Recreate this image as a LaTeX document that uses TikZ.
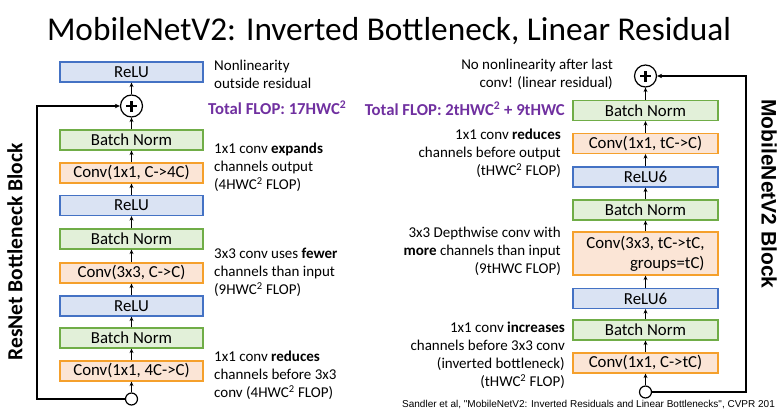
\documentclass[tikz,border=0pt]{standalone}
\usepackage{fontspec}
\setmainfont{Carlito}
\newfontfamily\arialfont{Liberation Sans}
\usetikzlibrary{arrows.meta}
\definecolor{bluefill}{HTML}{DAE3F3}
\definecolor{blueline}{HTML}{4472C4}
\definecolor{greenfill}{HTML}{E2F0D9}
\definecolor{greenline}{HTML}{70AD47}
\definecolor{orangefill}{HTML}{FBE5D6}
\definecolor{orangeline}{HTML}{F5A02C}
\definecolor{flopcol}{HTML}{7030A0}
\tikzset{
  layer/.style={draw, line width=1.2pt, minimum height=20pt, inner sep=0pt,
    font=\fontsize{16.8}{20}\selectfont},
  lbox/.style={layer, minimum width=143pt},
  rbox/.style={layer, minimum width=145pt},
  relubox/.style={fill=bluefill, draw=blueline},
  bnbox/.style={fill=greenfill, draw=greenline},
  convbox/.style={fill=orangefill, draw=orangeline},
  flow/.style={-{Stealth[length=4.5pt,width=4pt]}, line width=1.1pt},
  skip/.style={-{Stealth[length=5pt,width=4.5pt]}, line width=1.4pt},
  addnode/.style={circle, draw, line width=1.2pt, minimum size=22pt, inner sep=0pt,
    path picture={
      \draw[line width=2.2pt] ([xshift=-5.5pt]path picture bounding box.center) -- ([xshift=5.5pt]path picture bounding box.center);
      \draw[line width=2.2pt] ([yshift=-5.5pt]path picture bounding box.center) -- ([yshift=5.5pt]path picture bounding box.center);
    }},
  innode/.style={circle, draw, line width=1.2pt, fill=white, minimum size=12pt, inner sep=0pt},
  note/.style={inner sep=0pt, font=\fontsize{15}{18}\selectfont},
  lnote/.style={note, anchor=north west, align=left},
  rnote/.style={note, anchor=north east, align=right},
  flop/.style={inner sep=0pt, text=flopcol, font=\fontsize{16.7}{18}\selectfont\bfseries},
}
\begin{document}
\begin{tikzpicture}[x=1pt, y=-1pt]
\useasboundingbox (0,0) rectangle (778,415);
\clip (0,0) rectangle (778,415);

% title
\node[inner sep=0pt, font=\fontsize{33.3}{38}\selectfont] (title) at (389,31) {MobileNetV2: Inverted Bottleneck, Linear Residual};

% ---------- ResNet bottleneck block ----------
\node[lbox, relubox] (lrelu3) at (131.5,72) {ReLU};
\node[addnode] (ladd) at (131.5,106) {};
\node[lbox, bnbox] (lbn3) at (131.5,140) {Batch Norm};
\node[lbox, convbox] (lconv3) at (131.5,173) {Conv(1x1, C->4C)};
\node[lbox, relubox] (lrelu2) at (131.5,205.5) {ReLU};
\node[lbox, bnbox] (lbn2) at (131.5,239) {Batch Norm};
\node[lbox, convbox] (lconv2) at (131.5,273) {Conv(3x3, C->C)};
\node[lbox, relubox] (lrelu1) at (131.5,306) {ReLU};
\node[lbox, bnbox] (lbn1) at (131.5,338) {Batch Norm};
\node[lbox, convbox] (lconv1) at (131.5,371) {Conv(1x1, 4C->C)};
\node[innode] (lin) at (131.5,399) {};
\coordinate (lcorner) at (37,399);

\draw[flow] (lin) -- (lconv1);
\draw[flow] (lconv1) -- (lbn1);
\draw[flow] (lbn1) -- (lrelu1);
\draw[flow] (lrelu1) -- (lconv2);
\draw[flow] (lconv2) -- (lbn2);
\draw[flow] (lbn2) -- (lrelu2);
\draw[flow] (lrelu2) -- (lconv3);
\draw[flow] (lconv3) -- (lbn3);
\draw[flow] (lbn3) -- (ladd);
\draw[flow] (ladd) -- (lrelu3);
\draw[skip] (lin.west) -- (lcorner) |- (ladd.west);

\node[lnote] (ln1) at (214,60) {Nonlinearity\\outside residual};
\node[flop, anchor=west] (lflop) at (208,108) {Total FLOP: 17HWC\textsuperscript{2}};
\node[lnote] (ln2) at (214,143) {1x1 conv \textbf{expands}\\channels output\\(4HWC\textsuperscript{2} FLOP)};
\node[lnote] (ln3) at (214,248) {3x3 conv uses \textbf{fewer}\\channels than input\\(9HWC\textsuperscript{2} FLOP)};
\node[lnote] (ln4) at (214,351) {1x1 conv \textbf{reduces}\\channels before 3x3\\conv (4HWC\textsuperscript{2} FLOP)};

\node[inner sep=0pt, rotate=90, font=\fontsize{21.5}{24}\selectfont\bfseries] (lname) at (15,252) {ResNet Bottleneck Block};

% ---------- MobileNetV2 block ----------
\node[addnode] (radd) at (645.5,76) {};
\node[rbox, bnbox] (rbn3) at (645.5,110.5) {Batch Norm};
\node[rbox, convbox] (rconv3) at (645.5,143.5) {Conv(1x1, tC->C)};
\node[rbox, relubox] (rrelu2) at (645.5,177) {ReLU6};
\node[rbox, bnbox] (rbn2) at (645.5,210) {Batch Norm};
\node[rbox, convbox, minimum height=43pt, align=right] (rconv2) at (645.5,253.5) {Conv(3x3, tC->tC,\\groups=tC)};
\node[rbox, relubox] (rrelu1) at (645.5,298.5) {ReLU6};
\node[rbox, bnbox] (rbn1) at (645.5,330) {Batch Norm};
\node[rbox, convbox] (rconv1) at (645.5,363) {Conv(1x1, C->tC)};
\node[innode] (rin) at (645.5,392) {};
\coordinate (rcorner) at (746,392);

\draw[flow] (rin) -- (rconv1);
\draw[flow] (rconv1) -- (rbn1);
\draw[flow] (rbn1) -- (rrelu1);
\draw[flow] (rrelu1) -- (rconv2);
\draw[flow] (rconv2) -- (rbn2);
\draw[flow] (rbn2) -- (rrelu2);
\draw[flow] (rrelu2) -- (rconv3);
\draw[flow] (rconv3) -- (rbn3);
\draw[flow] (rbn3) -- (radd);
\draw[skip] (rin.east) -- (rcorner) |- (radd.east);

\node[rnote] (rn1) at (613,59) {No nonlinearity after last\\conv! (linear residual)};
\node[flop, anchor=east] (rflop) at (565,109) {Total FLOP: 2tHWC\textsuperscript{2} + 9tHWC};
\node[rnote] (rn2) at (561,129) {1x1 conv \textbf{reduces}\\channels before output\\(tHWC\textsuperscript{2} FLOP)};
\node[rnote] (rn3) at (561,227) {3x3 Depthwise conv with\\\textbf{more} channels than input\\(9tHWC FLOP)};
\node[rnote] (rn4) at (565,322) {1x1 conv \textbf{increases}\\channels before 3x3 conv\\(inverted bottleneck)\\(tHWC\textsuperscript{2} FLOP)};

\node[inner sep=0pt, rotate=-90, font=\arialfont\fontsize{21}{24}\selectfont\bfseries] (rname) at (769,194) {MobileNetV2 Block};

% reference line
\node[inner sep=0pt, anchor=west, font=\arialfont\fontsize{10}{12}\selectfont] (cite) at (402,405) {Sandler et al, "MobileNetV2: Inverted Residuals and Linear Bottlenecks", CVPR 201};
\end{tikzpicture}
\end{document}
